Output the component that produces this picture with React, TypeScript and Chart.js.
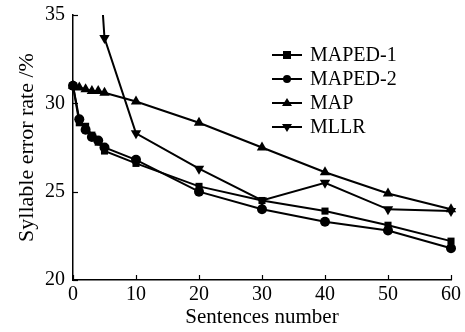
import React, { useEffect, useRef } from "react";
import { Chart, registerables } from "chart.js";
Chart.register(...registerables);

const xMaped = [0, 1, 2, 3, 4, 5, 10, 20, 30, 40, 50, 60];
const maped1 = [31.0, 28.9, 28.7, 28.2, 27.8, 27.3, 26.6, 25.3, 24.5, 23.9, 23.1, 22.2];
const maped2 = [31.0, 29.1, 28.5, 28.1, 27.9, 27.5, 26.8, 25.0, 24.0, 23.3, 22.8, 21.8];
const xMap = [0, 1, 2, 3, 4, 5, 10, 20, 30, 40, 50, 60];
const mapVals = [31.0, 30.9, 30.8, 30.7, 30.7, 30.6, 30.1, 28.9, 27.5, 26.1, 24.9, 24.0];
const xMllr = [4, 5, 10, 20, 30, 40, 50, 60];
const mllrVals = [39.0, 33.7, 28.3, 26.3, 24.5, 25.5, 24.0, 23.9];
const seriesNames = ["MAPED-1", "MAPED-2", "MAP", "MLLR"];
const xTicks = [0, 10, 20, 30, 40, 50, 60];
const yTicks = [20, 25, 30, 35];

const FONT = "'Liberation Serif', 'Times New Roman', serif";

const toPts = (xs: number[], ys: number[]) => xs.map((x, i) => ({ x, y: ys[i] }));

const innerTicks = {
  id: "innerTicks",
  afterDraw(chart: any) {
    const ctx = chart.ctx;
    const xs = chart.scales.x;
    const ys = chart.scales.y;
    const ca = chart.chartArea;
    ctx.save();
    ctx.strokeStyle = "#000";
    ctx.lineWidth = 1.2;
    xTicks.forEach((v) => {
      const px = Math.round(xs.getPixelForValue(v)) + 0.5;
      ctx.beginPath();
      ctx.moveTo(px, ca.bottom);
      ctx.lineTo(px, ca.bottom - 5);
      ctx.stroke();
    });
    yTicks.forEach((v) => {
      const py = Math.round(ys.getPixelForValue(v)) + 0.5;
      ctx.beginPath();
      ctx.moveTo(ca.left, py);
      ctx.lineTo(ca.left + 5, py);
      ctx.stroke();
    });
    ctx.restore();
  },
};

const customLegend = {
  id: "customLegend",
  afterDraw(chart: any) {
    const ctx = chart.ctx;
    const x0 = 272;
    const y0 = 55;
    const dy = 24;
    ctx.save();
    chart.data.datasets.forEach((ds: any, i: number) => {
      const y = y0 + i * dy;
      ctx.strokeStyle = "#000";
      ctx.lineWidth = 2;
      ctx.beginPath();
      ctx.moveTo(x0, y);
      ctx.lineTo(x0 + 30, y);
      ctx.stroke();
      ctx.fillStyle = "#000";
      const cx = x0 + 15;
      const r = 4;
      ctx.beginPath();
      if (ds.pointStyle === "rect") {
        ctx.rect(cx - r, y - r, 2 * r, 2 * r);
      } else if (ds.pointStyle === "circle") {
        ctx.arc(cx, y, r, 0, Math.PI * 2);
      } else if (ds.pointRotation === 180) {
        ctx.moveTo(cx - r - 1, y - r + 1);
        ctx.lineTo(cx + r + 1, y - r + 1);
        ctx.lineTo(cx, y + r + 1);
        ctx.closePath();
      } else {
        ctx.moveTo(cx - r - 1, y + r - 1);
        ctx.lineTo(cx + r + 1, y + r - 1);
        ctx.lineTo(cx, y - r - 1);
        ctx.closePath();
      }
      ctx.fill();
      ctx.font = `20px ${FONT}`;
      ctx.textBaseline = "middle";
      ctx.textAlign = "left";
      ctx.fillText(ds.label, x0 + 38, y + 1);
    });
    ctx.restore();
  },
};

export default function App() {
  const ref = useRef<HTMLCanvasElement>(null);
  useEffect(() => {
    if (!ref.current) return;
    const common = {
      borderColor: "#000",
      backgroundColor: "#000",
      pointBackgroundColor: "#000",
      pointBorderColor: "#000",
      borderWidth: 2,
      pointBorderWidth: 0,
      showLine: true,
      clip: { left: 10, right: 10, top: 0, bottom: 10 },
    };
    const chart = new Chart(ref.current, {
      type: "scatter",
      data: {
        datasets: [
          { ...common, label: seriesNames[0], data: toPts(xMaped, maped1), pointStyle: "rect", pointRadius: 5 },
          { ...common, label: seriesNames[1], data: toPts(xMaped, maped2), pointStyle: "circle", pointRadius: 5 },
          { ...common, label: seriesNames[2], data: toPts(xMap, mapVals), pointStyle: "triangle", pointRadius: 6 },
          { ...common, label: seriesNames[3], data: toPts(xMllr, mllrVals), pointStyle: "triangle", pointRotation: 180, pointRadius: 6 },
        ],
      },
      options: {
        animation: false,
        responsive: false,
        layout: { padding: { top: 15, right: 14, left: 0, bottom: 0 } },
        plugins: { legend: { display: false }, tooltip: { enabled: false } },
        scales: {
          x: {
            type: "linear",
            min: 0,
            max: 60,
            afterBuildTicks: (s: any) => { s.ticks = xTicks.map((v) => ({ value: v })); },
            afterFit: (s: any) => { s.height = 52; s.paddingLeft = 0; s.paddingRight = 0; },
            grid: { display: false, drawTicks: false, tickLength: 0 },
            border: { display: true, color: "#000", width: 1.5 },
            ticks: { color: "#000", font: { family: FONT, size: 20, lineHeight: 1.2 }, padding: 3, maxRotation: 0 },
            title: { display: true, text: "Sentences number", color: "#000", font: { family: FONT, size: 21, lineHeight: 1.2 }, padding: { top: 0, bottom: 2 } },
          },
          y: {
            type: "linear",
            min: 20,
            max: 35,
            afterBuildTicks: (s: any) => { s.ticks = yTicks.map((v) => ({ value: v })); },
            afterFit: (s: any) => { s.width = 73; s.paddingTop = 0; s.paddingBottom = 0; },
            grid: { display: false, drawTicks: false, tickLength: 0 },
            border: { display: true, color: "#000", width: 1.5 },
            ticks: { color: "#000", font: { family: FONT, size: 20 }, padding: 8 },
            title: { display: true, text: "Syllable error rate /%", color: "#000", font: { family: FONT, size: 22, lineHeight: 1.2 }, padding: { top: 14, bottom: 0 } },
          },
        },
      } as any,
      plugins: [innerTicks, customLegend],
    });
    return () => chart.destroy();
  }, []);
  return (
    <div style={{ position: "absolute", left: 0, top: 0, width: 465, height: 332, background: "#fff" }}>
      <canvas ref={ref} width={465} height={332} style={{ width: 465, height: 332 }} />
    </div>
  );
}
